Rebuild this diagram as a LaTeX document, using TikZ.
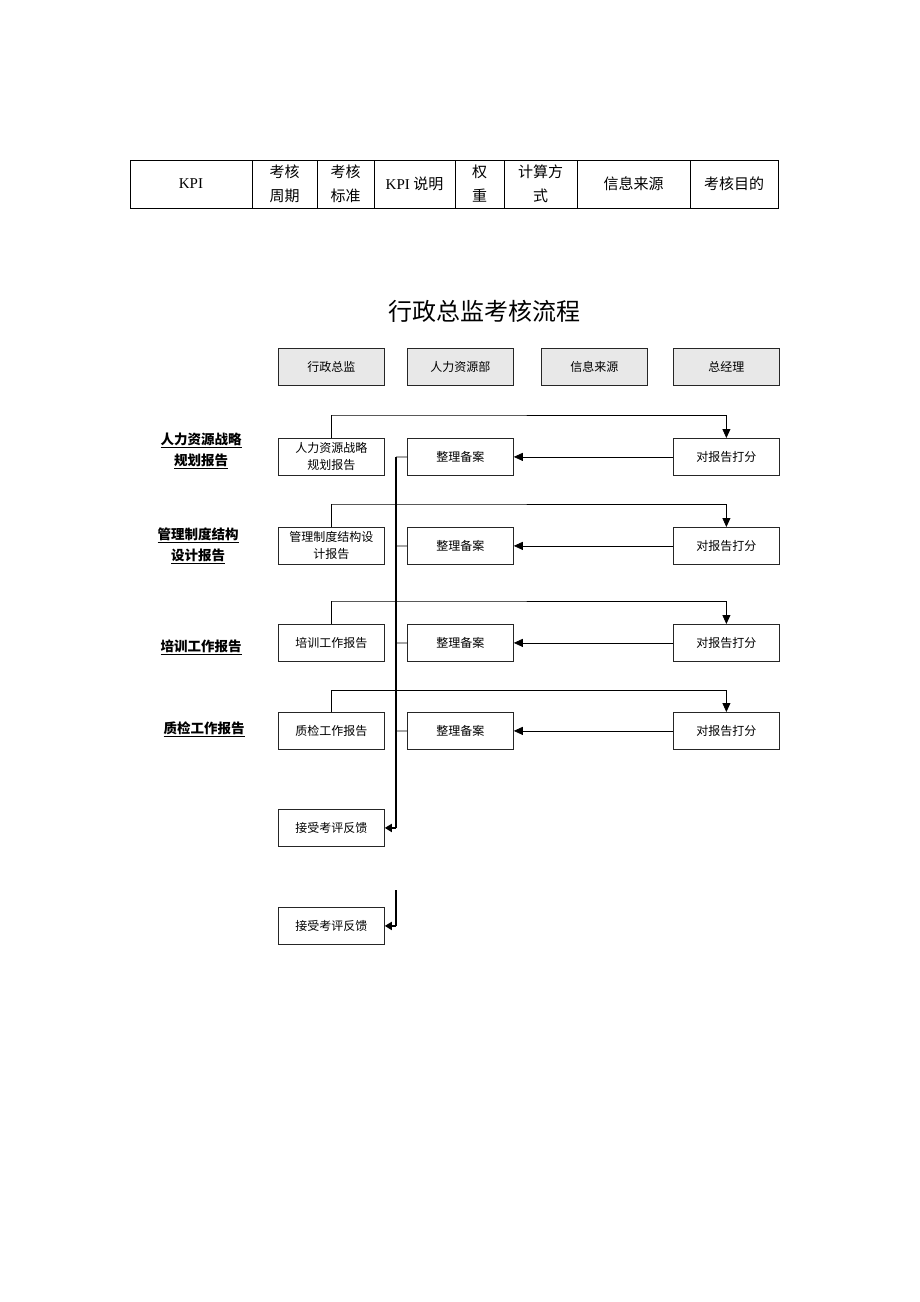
\documentclass[tikz,border=0pt]{standalone}
\usepackage{fontspec}
\setmainfont{Liberation Serif}
\newfontfamily\cjk{Noto Sans CJK SC}
\usetikzlibrary{arrows.meta}
\definecolor{hdrgrey}{HTML}{E8E8E8}
\tikzset{
  x=1pt,y=-1pt,
  box/.style={draw=black!85,line width=0.8pt,minimum width=106pt,minimum height=37pt,inner sep=1pt,font=\cjk\fontsize{12}{17}\selectfont,align=center,anchor=north west},
  hdr/.style={box,fill=hdrgrey},
  cell/.style={font=\cjk\fontsize{15}{24}\selectfont,align=center},
  lbl/.style={font=\cjk\bfseries\fontsize{13.5}{21}\selectfont,align=center},
  conn/.style={draw=black,line width=0.8pt},
  arr/.style={conn,-{Triangle[length=9pt,width=8pt]}},
  spine/.style={draw=black,line width=1.6pt}
}
\begin{document}
\begin{tikzpicture}
\useasboundingbox (0,0) rectangle (920,1302);
% table
\draw[line width=0.8pt] (130,160) rectangle (778,208);
\foreach \xx in {252,317,374,455,504,577,690}{\draw[line width=0.8pt] (\xx,160) -- (\xx,208);}
\node[cell,font=\rmfamily\fontsize{15}{24}\selectfont] (c1) at (191,184) {KPI};
\node[cell] (c2) at (284.5,184) {考核\\周期};
\node[cell] (c3) at (345.5,184) {考核\\标准};
\node[cell] (c4) at (414.5,184) {{\rmfamily KPI} 说明};
\node[cell] (c5) at (479.5,184) {权\\重};
\node[cell] (c6) at (540.5,184) {计算方\\式};
\node[cell] (c7) at (633.5,184) {信息来源};
\node[cell] (c8) at (734,184) {考核目的};
% title
\node[font=\cjk\fontsize{24}{28}\selectfont] (title) at (484,311) {行政总监考核流程};
% headers
\node[hdr] (h1) at (278,348) {行政总监};
\node[hdr] (h2) at (407,348) {人力资源部};
\node[hdr] (h3) at (541,348) {信息来源};
\node[hdr] (h4) at (673,348) {总经理};
% left labels
\node[lbl] (l1) at (201,451) {\underline{人力资源战略}\\\underline{规划报告}};
\node[lbl] (l2) at (198,546) {\underline{管理制度结构}\\\underline{设计报告}};
\node[lbl] (l3) at (201,647) {\underline{培训工作报告}};
\node[lbl] (l4) at (204,729) {\underline{质检工作报告}};
% rows
\node[box] (a1) at (278,438) {人力资源战略\\规划报告};
\node[box] (b1) at (407,438) {整理备案};
\node[box] (r1) at (673,438) {对报告打分};
\node[box] (a2) at (278,527) {管理制度结构设\\计报告};
\node[box] (b2) at (407,527) {整理备案};
\node[box] (r2) at (673,527) {对报告打分};
\node[box] (a3) at (278,624) {培训工作报告};
\node[box] (b3) at (407,624) {整理备案};
\node[box] (r3) at (673,624) {对报告打分};
\node[box] (a4) at (278,712) {质检工作报告};
\node[box] (b4) at (407,712) {整理备案};
\node[box] (r4) at (673,712) {对报告打分};
\node[box] (f1) at (278,809) {接受考评反馈};
\node[box] (f2) at (278,907) {接受考评反馈};
% connectors
\draw[arr] (a1.north) |- (331,415) -| (r1.north);
\draw[arr] (a2.north) |- (331,504) -| (r2.north);
\draw[arr] (a3.north) |- (331,601) -| (r3.north);
\draw[arr] (a4.north) |- (331,690) -| (r4.north);
\foreach \i in {1,2,3,4}{\draw[arr] (r\i.west) -- (b\i.east);}
\coordinate (s1) at (396,457);
\coordinate (s2) at (396,546);
\coordinate (s3) at (396,643);
\coordinate (s4) at (396,731);
\coordinate (sb) at (396,828);
\foreach \i in {1,2,3,4}{\draw[conn] (b\i.west) -- (s\i);}
\draw[spine] (s1) -- (sb);
\draw[spine,-{Triangle[length=7pt,width=8pt]}] (sb) -- (f1.east);
\coordinate (t1) at (396,890);
\coordinate (tb) at (396,926);
\draw[spine] (t1) -- (tb);
\draw[spine,-{Triangle[length=7pt,width=8pt]}] (tb) -- (f2.east);
\end{tikzpicture}
\end{document}
